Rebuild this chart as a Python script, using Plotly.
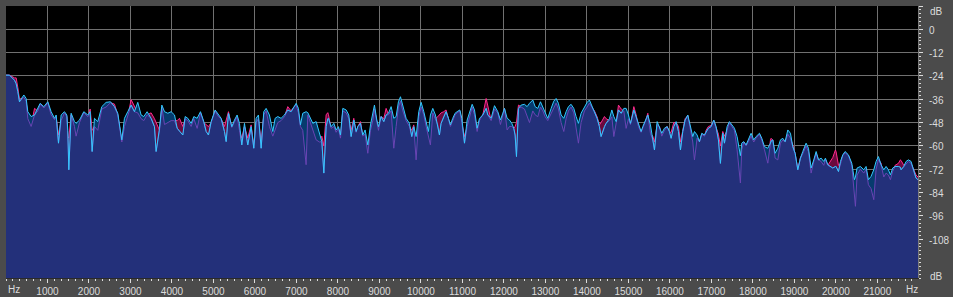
import plotly.graph_objects as go

# ---- data (frequency in Hz, level in dB) ----
FREQ_HZ = [
    0, 84, 205, 245, 285, 325, 430, 486, 526, 606, 687, 767, 823, 912, 1008, 1088, 1169, 1209, 1265, 1329,
    1409, 1466, 1490, 1514, 1570, 1650, 1690, 1771, 1875, 1972, 2028, 2076, 2132, 2212, 2309, 2413, 2518, 2614, 2694, 2791,
    2855, 2935, 3015, 3096, 3176, 3256, 3321, 3401, 3497, 3578, 3618,
    3700, 3756, 3820, 3900, 3980, 4061, 4125, 4181, 4262, 4318, 4382, 4462, 4527, 4607, 4687, 4767, 4824, 4880, 4944,
    5040, 5121, 5185, 5265, 5306, 5362, 5442, 5506, 5570, 5627, 5683, 5747, 5827, 5908, 5972, 6028, 6084, 6149, 6213,
    6269, 6349, 6430, 6486, 6550, 6630, 6711, 6791, 6871, 6936, 6992, 7048, 7096, 7152, 7233,
    7274, 7339, 7395, 7475, 7555, 7612, 7660, 7716, 7756, 7772, 7836, 7901, 7957, 8013, 8061, 8117, 8198, 8262, 8318,
    8382, 8439, 8479, 8543, 8599, 8655, 8720, 8784, 8840, 8880, 8937, 8977, 9041, 9105, 9161, 9218, 9282, 9346, 9402,
    9458, 9507, 9563, 9643, 9723, 9780, 9828, 9884, 9948, 10005, 10069, 10125, 10181, 10229, 10286, 10350, 10406,
    10446, 10486, 10550, 10606, 10663, 10711, 10767, 10823, 10872,
    10937, 10986, 11050, 11114, 11170, 11235, 11291, 11355, 11411, 11492, 11572, 11612, 11692, 11773, 11853, 11917,
    11973, 12014, 12078, 12134, 12190, 12238, 12270, 12303, 12351, 12415, 12495, 12560, 12616, 12696, 12752, 12817,
    12881, 12937, 12993, 13057, 13138, 13202, 13258, 13314, 13379, 13443, 13499, 13555, 13619, 13684, 13740, 13796,
    13860, 13941, 14005, 14061, 14117, 14182, 14246, 14302, 14342, 14423, 14463,
    14544, 14601, 14649, 14705, 14761, 14825, 14890, 14946, 15002, 15050, 15131, 15187, 15243, 15307, 15347, 15404,
    15468, 15532, 15588, 15629, 15693, 15749, 15805, 15869, 15934, 15990, 16030, 16094, 16150, 16207, 16255, 16311,
    16367, 16432, 16496, 16552, 16592, 16656, 16713, 16769, 16833, 16873, 16929, 16993, 17058, 17114, 17170, 17218,
    17275, 17315, 17379, 17435, 17491, 17556, 17620, 17660, 17700, 17732, 17781, 17837, 17893, 17957, 18021, 18078,
    18159, 18216, 18280, 18360, 18424, 18440, 18481, 18537, 18601, 18665, 18722, 18778, 18842, 18906, 18962, 19019,
    19083, 19147, 19203, 19283, 19340, 19404, 19468, 19525, 19581, 19645, 19709, 19749, 19806, 19870, 19926, 19990,
    20006, 20063, 20111, 20167, 20223, 20303, 20384, 20448, 20472, 20512, 20592, 20673, 20729, 20785, 20849, 20914,
    20970, 21026, 21090, 21155, 21211, 21267, 21315, 21371, 21428, 21508, 21556, 21572, 21636, 21693, 21749, 21813,
    21877, 21933, 21980,
]

RIGHT_DB = [
    -23.6, -23.6, -26.2, -28.0, -32.1, -37.3, -33.8, -35.6, -42.4, -44.9, -44.1, -40.7, -38.1, -39.8, -37.3, -42.4, -45.8, -44.1, -58.6, -44.1,
    -42.4, -44.1, -52.0, -72.3, -43.2, -47.5, -48.4, -46.7, -42.4, -44.1, -42.4, -62.9, -45.8, -47.5, -39.8, -37.6, -37.3, -39.8, -43.2, -56.9,
    -45.8, -42.4, -39.0, -42.4, -37.6, -44.1, -44.9, -42.4, -45.8, -50.1, -62.9,
    -50.9, -39.0, -42.4, -43.2, -42.4, -44.1, -50.9, -52.6, -54.4, -44.9, -45.8, -48.4, -44.9, -45.8, -42.4, -47.5, -52.6, -54.4, -47.5,
    -41.5, -44.1, -45.8, -52.6, -57.8, -43.2, -50.1, -46.7, -44.1, -48.4, -59.5, -48.4, -59.5, -50.1, -61.2, -45.8, -44.1, -61.2, -42.4,
    -40.7, -44.1, -52.6, -45.8, -44.9, -45.8, -44.1, -41.5, -42.4, -39.8, -38.1, -40.7, -49.2, -43.2, -42.4,
    -42.9, -45.8, -48.4, -47.5, -54.4, -57.8, -74.0, -50.1, -46.0, -45.8, -50.1, -48.4, -51.8, -50.1, -54.4, -40.7, -41.5, -44.1, -55.2,
    -46.7, -52.6, -50.1, -48.4, -54.4, -51.8, -59.5, -49.2, -44.1, -39.0, -46.7, -50.1, -44.9, -47.5, -44.1, -43.2, -39.8, -45.8, -44.9,
    -37.3, -34.7, -39.0, -45.8, -48.4, -55.2, -50.1, -55.2, -42.4, -37.6, -42.4, -47.5, -52.6, -44.1, -40.7, -44.1, -49.2,
    -54.4, -48.4, -44.9, -42.4, -45.8, -49.2, -45.8, -43.2, -42.4,
    -41.5, -45.8, -58.6, -46.7, -42.4, -38.6, -41.5, -50.9, -45.8, -44.1, -40.7, -44.1, -45.8, -39.3, -42.4, -46.7,
    -43.2, -40.7, -45.8, -46.7, -48.4, -50.9, -54.4, -65.5, -40.7, -39.0, -38.6, -39.8, -38.1, -36.4, -39.8, -40.7,
    -37.3, -39.8, -42.4, -45.8, -40.7, -37.0, -35.6, -38.1, -44.1, -45.8, -42.4, -39.8, -38.6, -40.7, -44.9, -48.4,
    -43.2, -39.8, -37.6, -36.4, -39.0, -42.4, -45.8, -50.1, -55.2, -50.0, -48.4,
    -46.0, -41.5, -44.9, -47.5, -41.5, -43.2, -40.7, -40.7, -44.1, -48.4, -41.5, -44.9, -49.2, -52.6, -50.1, -47.5,
    -44.1, -49.2, -56.9, -62.1, -47.5, -50.1, -53.5, -50.9, -50.1, -52.6, -56.1, -50.1, -47.5, -52.6, -62.1, -52.6,
    -46.7, -44.1, -50.1, -55.2, -52.6, -54.4, -57.8, -53.5, -54.4, -52.6, -50.9, -50.1, -46.7, -50.1, -56.9, -69.0,
    -53.5, -58.6, -50.1, -47.5, -49.2, -50.9, -55.2, -60.4, -65.0, -58.6, -57.8, -59.5, -56.9, -53.5, -56.9, -55.2,
    -53.5, -56.1, -60.4, -61.2, -58.6, -57.5, -56.9, -63.8, -61.2, -56.9, -56.1, -57.8, -51.8, -53.5, -60.4, -63.8,
    -72.3, -66.3, -62.9, -58.6, -61.2, -71.4, -67.2, -62.9, -67.2, -66.3, -68.0, -66.3, -69.7, -70.6, -71.4, -70.6,
    -70.6, -73.2, -68.0, -64.6, -62.9, -64.6, -68.9, -77.4, -76.0, -71.4, -70.6, -72.3, -70.6, -77.4, -75.7, -72.3,
    -68.0, -65.5, -69.7, -72.3, -70.6, -72.3, -74.9, -71.4, -70.6, -70.6, -71.0, -72.3, -70.6, -68.0, -67.2, -68.0,
    -73.2, -76.6, -77.4,
]

LEFT_DB = [
    -23.6, -23.6, -25.0, -25.0, -30.0, -36.0, -35.0, -37.0, -46.0, -50.0, -40.7, -42.0, -38.5, -40.5, -37.8, -44.0, -46.5, -45.0, -54.4, -47.0,
    -43.0, -45.0, -55.0, -56.0, -44.0, -50.0, -55.0, -48.0, -42.8, -45.0, -41.0, -52.0, -50.0, -52.0, -41.0, -40.0, -37.8, -38.5, -44.0, -58.0,
    -50.0, -45.0, -36.2, -40.0, -43.0, -46.0, -47.0, -44.0, -43.0, -46.0, -48.0,
    -52.0, -40.0, -49.0, -48.0, -47.0, -47.0, -47.0, -45.8, -50.0, -46.0, -47.0, -50.0, -46.0, -51.0, -43.0, -48.0, -49.0, -50.1, -48.0,
    -42.0, -45.0, -46.0, -50.0, -47.0, -42.4, -50.5, -48.0, -45.0, -52.0, -56.0, -50.0, -56.0, -49.2, -60.0, -48.0, -46.0, -58.0, -44.0,
    -42.0, -50.0, -55.0, -52.0, -48.0, -47.0, -45.0, -39.8, -42.0, -40.0, -39.0, -43.0, -50.0, -52.0, -69.7,
    -44.0, -48.0, -52.0, -56.9, -58.0, -55.0, -60.0, -44.0, -42.9, -44.0, -51.0, -50.0, -53.0, -51.0, -56.0, -42.0, -43.0, -46.0, -52.0,
    -45.8, -53.0, -50.0, -47.5, -55.0, -54.0, -63.8, -52.0, -47.0, -41.0, -48.0, -52.0, -44.9, -46.0, -40.7, -44.0, -42.0, -61.2, -50.0,
    -40.0, -37.0, -42.0, -47.0, -50.0, -52.0, -49.2, -67.2, -45.0, -40.0, -44.0, -50.0, -56.0, -59.5, -43.0, -46.0, -45.0,
    -44.0, -43.0, -42.4, -41.5, -46.0, -50.0, -47.0, -44.0, -43.0,
    -42.0, -48.0, -55.2, -50.0, -45.0, -40.0, -44.0, -52.6, -47.0, -44.0, -35.6, -40.0, -47.0, -41.0, -43.0, -49.0,
    -44.0, -40.7, -51.8, -50.0, -50.0, -51.0, -50.0, -48.0, -39.0, -40.0, -41.0, -45.0, -48.0, -42.0, -44.0, -45.0,
    -40.0, -42.0, -45.0, -47.0, -43.0, -40.0, -38.0, -41.0, -48.0, -52.6, -46.0, -42.0, -40.0, -43.0, -50.0, -58.6,
    -48.0, -42.0, -40.0, -38.0, -40.0, -42.0, -45.0, -49.2, -48.0, -44.9, -46.0,
    -47.0, -45.0, -55.2, -48.0, -39.0, -41.0, -42.0, -51.0, -46.0, -49.0, -39.8, -44.0, -50.0, -53.0, -51.0, -48.0,
    -43.2, -53.5, -55.0, -58.0, -49.0, -50.0, -55.0, -52.0, -50.0, -53.0, -53.0, -48.0, -48.0, -50.0, -58.0, -52.0,
    -46.0, -44.5, -52.0, -58.0, -67.2, -56.0, -58.0, -54.0, -55.0, -52.0, -50.0, -49.5, -47.0, -51.0, -54.0, -60.0,
    -52.6, -55.0, -52.0, -48.0, -50.0, -52.0, -62.0, -70.0, -79.1, -62.0, -58.0, -60.0, -58.0, -55.0, -58.0, -56.0,
    -54.0, -57.0, -62.0, -68.9, -57.0, -56.1, -57.0, -66.3, -67.2, -58.6, -57.0, -58.0, -54.0, -56.0, -59.5, -64.0,
    -72.0, -66.0, -64.0, -60.0, -63.0, -74.0, -68.0, -63.8, -67.0, -68.0, -70.0, -67.0, -70.0, -68.0, -66.0, -62.1,
    -63.0, -70.0, -69.0, -65.0, -63.5, -65.0, -70.0, -85.0, -91.1, -75.0, -72.0, -74.0, -72.0, -80.0, -82.0, -87.7,
    -72.0, -67.0, -68.9, -76.0, -74.0, -75.0, -77.4, -73.0, -70.0, -69.0, -67.2, -67.5, -70.0, -69.0, -68.0, -69.0,
    -72.0, -75.0, -76.0,
]

DB_TICKS = [12, 0, -12, -24, -36, -48, -60, -72, -84, -96, -108]
DB_LABELS = ["", "0", "-12", "-24", "-36", "-48", "-60", "-72", "-84", "-96", "-108"]
HZ_TICKS = list(range(1000, 22000, 1000))
Y_MIN, Y_MAX = -128, 12
X_MIN, X_MAX = 0, 21980

# ---- styling ----
FRAME_BG = "#4b4b4b"
GRID = "#707070"
NAVY = "#23307a"
RIGHT_ONLY = "#063b6e"
LEFT_ONLY = "#6a0a3e"
MAGENTA = "#ff2a8c"
CYAN = "#33c8ff"
PURPLE = "#6a44b4"
TEXT = "#dcdcdc"
FONT = dict(family="Liberation Sans, Arial, sans-serif", size=10, color=TEXT)

MIN_DB = [min(a, b) for a, b in zip(LEFT_DB, RIGHT_DB)]
BASE = [Y_MIN] * len(FREQ_HZ)

fig = go.Figure()
common = dict(mode="lines", showlegend=False, hoverinfo="skip")

# left channel area (visible only where it rises above the right channel)
fig.add_trace(go.Scatter(x=FREQ_HZ, y=BASE, line=dict(width=0), **common))
fig.add_trace(go.Scatter(x=FREQ_HZ, y=LEFT_DB, fill="tonexty", fillcolor=LEFT_ONLY,
                         line=dict(color=MAGENTA, width=1), **common))
# right channel area
fig.add_trace(go.Scatter(x=FREQ_HZ, y=BASE, line=dict(width=0), **common))
fig.add_trace(go.Scatter(x=FREQ_HZ, y=RIGHT_DB, fill="tonexty", fillcolor=RIGHT_ONLY,
                         line=dict(width=0), **common))
# common area under both channels
fig.add_trace(go.Scatter(x=FREQ_HZ, y=BASE, line=dict(width=0), **common))
fig.add_trace(go.Scatter(x=FREQ_HZ, y=MIN_DB, fill="tonexty", fillcolor=NAVY,
                         line=dict(color=PURPLE, width=1), **common))
# right channel outline on top
fig.add_trace(go.Scatter(x=FREQ_HZ, y=RIGHT_DB, line=dict(color=CYAN, width=1), **common))

fig.update_layout(
    width=953, height=297,
    margin=dict(l=6, r=35, t=6, b=19, pad=0, autoexpand=False),
    paper_bgcolor=FRAME_BG, plot_bgcolor="#000000",
    font=FONT,
    xaxis=dict(
        range=[X_MIN, X_MAX], tickmode="array", tickvals=HZ_TICKS,
        ticktext=[str(v) for v in HZ_TICKS], automargin=False,
        showgrid=True, gridcolor=GRID, gridwidth=1, zeroline=False,
        showline=True, linecolor="#2a2a2a", linewidth=1, mirror=False,
        ticks="outside", ticklen=4, tickcolor=TEXT, tickwidth=1,
        ticklabelstandoff=0,
        minor=dict(dtick=1000 / 6, tick0=0, ticklen=2, tickcolor=TEXT, showgrid=False),
        tickfont=FONT,
    ),
    yaxis=dict(
        range=[Y_MIN, Y_MAX], side="right", tickmode="array", tickvals=DB_TICKS,
        ticktext=DB_LABELS, automargin=False,
        showgrid=True, gridcolor=GRID, gridwidth=1, zeroline=False,
        showline=True, linecolor="#7a7a7a", linewidth=1,
        ticks="outside", ticklen=4, tickcolor=TEXT, tickwidth=1,
        ticklabelstandoff=4, ticklabelshift=1,
        minor=dict(dtick=2, tick0=0, ticklen=2, tickcolor=TEXT, showgrid=False),
        tickfont=FONT,
    ),
)

# unit labels
fig.add_annotation(x=0, y=-0.044, xref="paper", yref="paper", text="Hz", showarrow=False,
                   xanchor="left", yanchor="middle", xshift=0, font=FONT)
fig.add_annotation(x=1, y=-0.044, xref="paper", yref="paper", text="Hz", showarrow=False,
                   xanchor="right", yanchor="middle", xshift=2, font=FONT)
fig.add_annotation(x=1, y=1, xref="paper", yref="paper", text="dB", showarrow=False,
                   xanchor="left", yanchor="middle", xshift=10, yshift=-5, font=FONT)
fig.add_annotation(x=1, y=0, xref="paper", yref="paper", text="dB", showarrow=False,
                   xanchor="left", yanchor="middle", xshift=10, yshift=2, font=FONT)

fig.write_html("out.html")
